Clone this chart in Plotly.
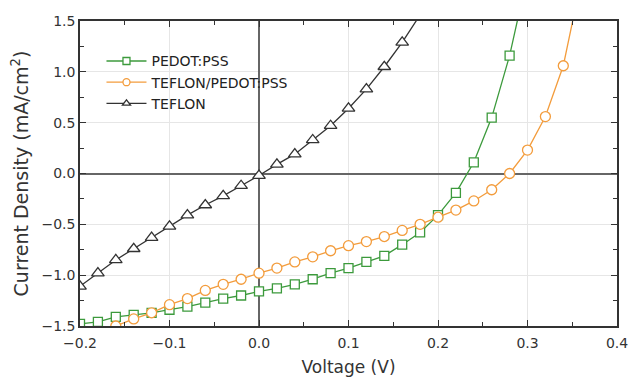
import plotly.graph_objects as go

voltage = [-0.20, -0.18, -0.16, -0.14, -0.12, -0.10, -0.08, -0.06, -0.04, -0.02,
           0.00, 0.02, 0.04, 0.06, 0.08, 0.10, 0.12, 0.14, 0.16, 0.18,
           0.20, 0.22, 0.24, 0.26, 0.28, 0.30, 0.32, 0.34, 0.36]

pedot = [-1.48, -1.46, -1.41, -1.39, -1.37, -1.34, -1.31, -1.27, -1.23, -1.20,
         -1.16, -1.13, -1.09, -1.04, -0.98, -0.93, -0.87, -0.81, -0.70, -0.58,
         -0.41, -0.19, 0.11, 0.55, 1.16, 1.95]

teflon_pedot = [-1.64, -1.57, -1.50, -1.43, -1.37, -1.29, -1.23, -1.15, -1.09, -1.04,
                -0.98, -0.93, -0.87, -0.82, -0.76, -0.71, -0.67, -0.62, -0.56, -0.50,
                -0.43, -0.36, -0.27, -0.16, 0.00, 0.23, 0.56, 1.06, 1.90]

teflon = [-1.11, -0.98, -0.85, -0.74, -0.63, -0.52, -0.41, -0.31, -0.22, -0.12,
          -0.02, 0.09, 0.19, 0.33, 0.47, 0.64, 0.83, 1.05, 1.29, 1.56]

series = [
    ("PEDOT:PSS", pedot, "#3c9a3c", "square", 9),
    ("TEFLON/PEDOT:PSS", teflon_pedot, "#f39c3c", "circle", 10),
    ("TEFLON", teflon, "#333333", "triangle-up", 11),
]

fig = go.Figure()
for name, vals, color, sym, size in series:
    fig.add_trace(go.Scatter(
        x=voltage[:len(vals)], y=vals, name=name, mode="lines+markers",
        line=dict(color=color, width=1.3), showlegend=False,
        marker=dict(symbol=sym, size=size, color="white", line=dict(width=1.3, color=color)),
    ))
# legend entries with the small markers seen in the reference legend
for name, vals, color, sym, size in series:
    fig.add_trace(go.Scatter(
        x=[None], y=[None], name=name, mode="lines+markers",
        line=dict(color=color, width=1.3),
        marker=dict(symbol=sym, size=7, color="white", line=dict(width=1.3, color=color)),
    ))

axis_common = dict(
    showline=True, linecolor="#333", linewidth=1.5, mirror="allticks",
    ticks="inside", ticklen=6, tickcolor="#333", tickwidth=1.3,
    showgrid=True, gridcolor="#e6e6e6", gridwidth=1,
    zeroline=True, zerolinecolor="#666", zerolinewidth=1.5,
    tickfont=dict(family="DejaVu Sans", size=14, color="#333"),
    automargin=False,
)

fig.update_xaxes(range=[-0.2, 0.4], dtick=0.1, tickformat=".1f", ticklabelstandoff=3,
                 minor=dict(ticks="inside", dtick=0.05, ticklen=4, tickcolor="#333", showgrid=False),
                 title=dict(text="Voltage (V)", font=dict(family="DejaVu Sans", size=17, color="#333"), standoff=12),
                 **axis_common)
fig.update_yaxes(range=[-1.5, 1.5], dtick=0.5, tickformat=".1f",
                 minor=dict(ticks="inside", dtick=0.25, ticklen=4, tickcolor="#333", showgrid=False),
                 title=dict(text="Current Density (mA/cm<sup>2</sup>)", font=dict(family="DejaVu Sans", size=19, color="#333"), standoff=8),
                 **axis_common)

fig.update_layout(
    width=630, height=377,
    margin=dict(l=80, r=13, t=21, b=51),
    plot_bgcolor="white", paper_bgcolor="white",
    legend=dict(x=0.04, y=0.92, xanchor="left", yanchor="top", itemwidth=40,
                bgcolor="rgba(0,0,0,0)", tracegroupgap=0,
                font=dict(family="DejaVu Sans", size=14, color="#222")),
)

fig.write_html("out.html")
